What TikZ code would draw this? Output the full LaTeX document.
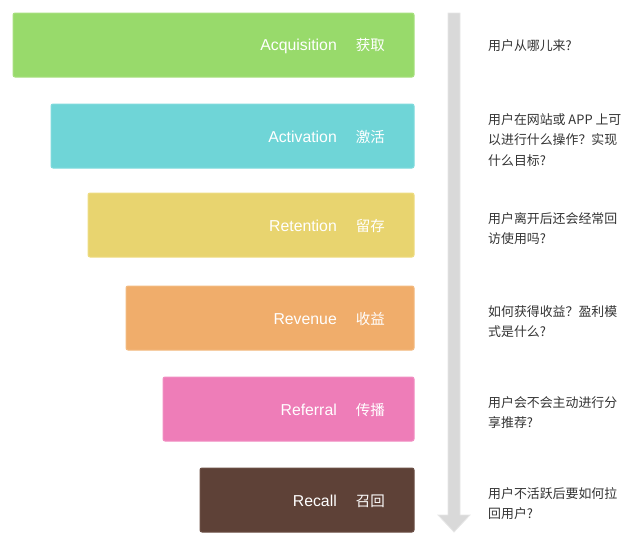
\documentclass[tikz,border=0pt]{standalone}
\usepackage{fontspec}
\setmainfont{Liberation Sans}
\newfontfamily\cjk{Noto Sans CJK SC}
\definecolor{cA}{HTML}{98DA6B}
\definecolor{cAb}{HTML}{A8E07F}
\definecolor{cB}{HTML}{6FD5D7}
\definecolor{cBb}{HTML}{80DBDD}
\definecolor{cC}{HTML}{E8D46F}
\definecolor{cCb}{HTML}{EEDC82}
\definecolor{cD}{HTML}{F0AD6B}
\definecolor{cDb}{HTML}{F3BA80}
\definecolor{cE}{HTML}{EE7DB8}
\definecolor{cEb}{HTML}{F18EC2}
\definecolor{cF}{HTML}{5E4137}
\definecolor{cFb}{HTML}{6B4F45}
\definecolor{arrowgray}{HTML}{D9D9D9}
\definecolor{arrowedge}{HTML}{E6E6E6}
\definecolor{txt}{HTML}{333333}
\newcommand{\zh}[1]{{\cjk\fontsize{14.5}{18}\selectfont #1}}
\tikzset{
  stage/.style={rounded corners=2pt, line width=1pt},
  lbl/.style={anchor=east, text=white, font=\fontsize{15.8}{18}\selectfont, inner sep=0pt},
  note/.style={anchor=north west, align=left, text=txt, font=\cjk\fontsize{12.9}{20.5}\selectfont, inner sep=0pt},
}
\begin{document}
\begin{tikzpicture}[x=1pt,y=-1pt]
\useasboundingbox (0,0) rectangle (640,546);
% arrow
\filldraw[fill=arrowgray, draw=arrowedge, line width=0.8pt]
  (448,13) -- (460,13) -- (460,515) -- (470,515) -- (454,532) -- (438,515) -- (448,515) -- cycle;
% boxes
\path[stage, fill=cA, draw=cAb] (13,13) rectangle (414,77);
\path[stage, fill=cB, draw=cBb] (51,104) rectangle (414,168);
\path[stage, fill=cC, draw=cCb] (88,193) rectangle (414,257);
\path[stage, fill=cD, draw=cDb] (126,286) rectangle (414,350);
\path[stage, fill=cE, draw=cEb] (163,377) rectangle (414,441);
\path[stage, fill=cF, draw=cFb] (200,468) rectangle (414,532);
% labels
\node[lbl] (la) at (385,46) {Acquisition\hspace{19pt}\zh{获取}};
\node[lbl] (lb) at (385,137) {Activation\hspace{19pt}\zh{激活}};
\node[lbl] (lc) at (385,226) {Retention\hspace{19pt}\zh{留存}};
\node[lbl] (ld) at (385,319) {Revenue\hspace{19pt}\zh{收益}};
\node[lbl] (le) at (385,410) {Referral\hspace{19pt}\zh{传播}};
\node[lbl] (lf) at (385,501) {Recall\hspace{19pt}\zh{召回}};
% notes
\node[note] (na) at (488,39) {用户从哪儿来?};
\node[note] (nb) at (488,113) {用户在网站或 APP 上可\\以进行什么操作？实现\\什么目标?};
\node[note] (nc) at (488,212) {用户离开后还会经常回\\访使用吗?};
\node[note] (nd) at (488,305) {如何获得收益？盈利模\\式是什么?};
\node[note] (ne) at (488,396) {用户会不会主动进行分\\享推荐?};
\node[note] (nf) at (488,487) {用户不活跃后要如何拉\\回用户?};
\end{tikzpicture}
\end{document}
